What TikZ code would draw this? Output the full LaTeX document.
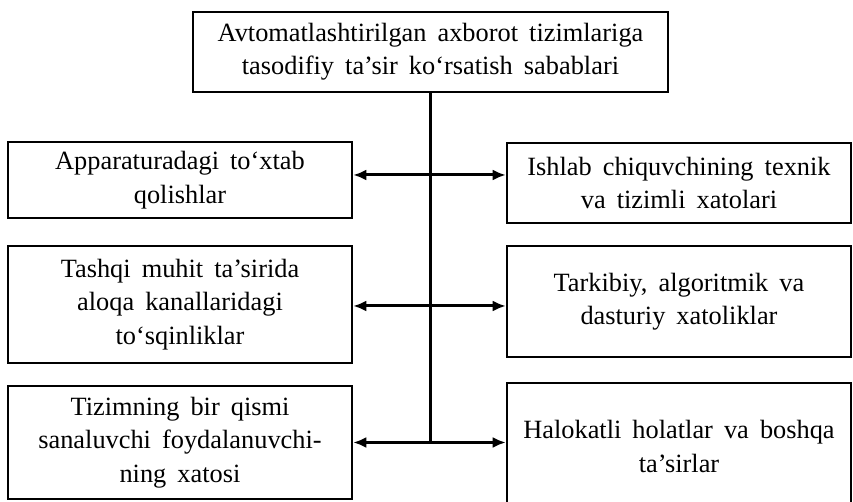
\documentclass[tikz,border=0pt]{standalone}
\usepackage{fontspec}
\setmainfont{Liberation Serif}
\usepackage{tikz}
\usetikzlibrary{shapes, arrows.meta, positioning}
\usetikzlibrary{calc}
\newcommand{\blokfont}{\fontsize{15}{19}\selectfont\spaceskip=0.42em\relax}

\begin{document}
\begin{tikzpicture}[x=0.02cm, y=-0.02cm, auto, >={Latex[length=2.6mm,width=2.2mm]},
		blok/.style={rectangle, draw, line width=1.5pt, align=center, inner sep=2pt,
			font=\blokfont, minimum width=6.88cm},
		strelka/.style={line width=1.7pt}]
		\useasboundingbox (0,0) rectangle (853,502);
		
		% --- Bloc du HAUT ---
		\node[blok, minimum width=9.5cm, minimum height=1.6cm] (sabab) at (430.5,52) {Avtomatlashtirilgan axborot tizimlariga\\tasodifiy ta’sir ko‘rsatish sabablari};
		
		% --- Colonne de GAUCHE ---
		\node[blok, minimum height=1.52cm] (toxtab) at (180,180) {Apparaturadagi to‘xtab\\qolishlar};
		\node[blok, minimum height=2.34cm] (tosqin) at (180,304.5) {Tashqi muhit ta’sirida\\aloqa kanallaridagi\\to‘sqinliklar};
		\node[blok, minimum height=2.26cm] (foyd) at (180,442.5) {Tizimning bir qismi\\sanaluvchi foydalanuvchi-\\ning xatosi};
		
		% --- Colonne de DROITE ---
		\node[blok, minimum height=1.6cm] (texnik) at (679,183) {Ishlab chiquvchining texnik\\va tizimli xatolari};
		\node[blok, minimum height=2.22cm] (algo) at (679,301.5) {Tarkibiy, algoritmik va\\dasturiy xatoliklar};
		\node[blok, minimum height=2.54cm] (halokat) at (679,446.5) {Halokatli holatlar va boshqa\\ta’sirlar};
		
		% --- Ligne verticale depuis le bloc du haut ---
		\draw[strelka] (sabab.south) -- (sabab.south |- foyd.east);
		
		% --- Flèches doubles gauche-droite ---
		\foreach \g/\d/\dy in {toxtab/texnik/5, tosqin/algo/-1.5, foyd/halokat/0} {
			\draw[strelka, <->] ([yshift=\dy*0.02cm]\g.east) -- ([yshift=\dy*0.02cm]\g.east -| \d.west);
		}
		
	\end{tikzpicture}
\end{document}
